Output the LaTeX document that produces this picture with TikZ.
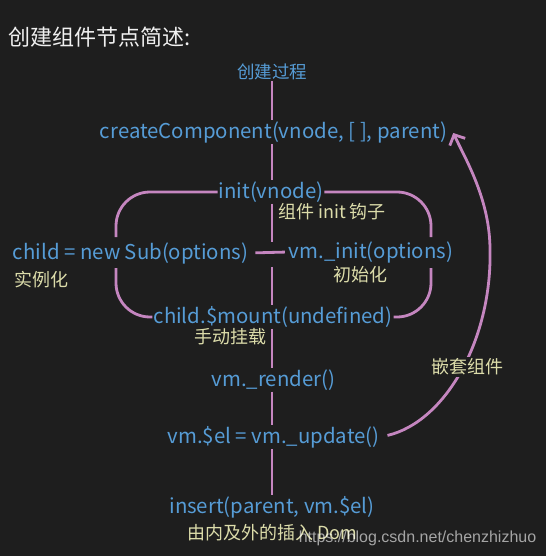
\documentclass[tikz,border=0pt]{standalone}
\usepackage{fontspec}
\setmainfont{Noto Sans CJK SC}
\newfontfamily\wmfont{Liberation Sans}
\usetikzlibrary{arrows.meta}
\definecolor{bg}{HTML}{1E1E1E}
\definecolor{kw}{HTML}{569CD6}
\definecolor{ln}{HTML}{C586C0}
\definecolor{lb}{HTML}{DCDCAA}
\definecolor{tt}{HTML}{F0F0F0}
\tikzset{
  code/.style={text=kw, font=\fontsize{20.4}{24}\selectfont, inner sep=1pt},
  note/.style={text=lb, font=\fontsize{18}{22}\selectfont, inner sep=1pt},
  wire/.style={draw=ln, line width=2.8pt},
  wm/.style={text=white, text opacity=0.6, font=\wmfont\fontsize{16}{19}\selectfont, inner sep=0pt},
}
\begin{document}
\begin{tikzpicture}[x=1pt,y=-1pt]
\useasboundingbox (0,0) rectangle (546,556);
\fill[bg] (0,0) rectangle (546,556);
\coordinate (sp) at (272,0);
% texts
\node[text=tt, font=\fontsize{22}{26}\selectfont, anchor=west, inner sep=0pt] (title) at (8,37) {创建组件节点简述:};
\node[code, font=\fontsize{17.5}{20}\selectfont] (proc) at (272,72) {创建过程};
\node[code] (cc) at (273.5,132) {createComponent(vnode, [ ], parent)};
\node[code] (init) at (271,192) {init(vnode)};
\node[note, anchor=west] (hook) at (277,212) {组件 init 钩子};
\node[code] (child) at (130.5,253) {child = new Sub(options)};
\node[code] (vminit) at (371,252) {vm.\_init(options)};
\node[note, anchor=west] (inst) at (13,280) {实例化};
\node[note] (initz) at (360.5,275) {初始化};
\node[code] (mount) at (273,317) {child.\$mount(undefined)};
\node[note] (manual) at (230.5,337) {手动挂载};
\node[code] (render) at (273.5,380) {vm.\_render()};
\node[code] (update) at (273.5,437) {vm.\$el = vm.\_update()};
\node[code] (insert) at (272,507) {insert(parent, vm.\$el)};
\node[note] (dom) at (272,533) {由内及外的插入 Dom};
% spine
\coordinate (j1) at (272,242);
\coordinate (j2) at (272,267);
\draw[wire] (proc.south -| sp) -- (cc.north -| sp);
\draw[wire] (cc.south -| sp) -- (init.north -| sp);
\draw[wire] (init.south -| sp) -- (j1);
\draw[wire, shorten <=6pt, shorten >=3pt] (child.east) -- (vminit.west);
\draw[wire] (j2) -- (mount.north -| sp);
\draw[wire] (mount.south -| sp) -- (render.north -| sp);
\draw[wire] (render.south -| sp) -- (update.north -| sp);
\draw[wire] (update.south -| sp) -- (insert.north -| sp);
% bracket
\coordinate (bTL) at (116,237);
\coordinate (bTR) at (431,237);
\coordinate (bBL) at (116,268);
\coordinate (bBR) at (431,268);
\draw[wire, rounded corners=34pt] (init.west) -| (bTL);
\draw[wire, rounded corners=34pt] (init.east) -| (bTR);
\draw[wire, rounded corners=34pt] (bBL) |- (mount.west);
\draw[wire, rounded corners=34pt] (bBR) |- (mount.east);
% nesting arrow
\draw[wire, shorten <=7pt, -{Straight Barb[length=8pt,width=17pt]}] (update.east) .. controls (445,422) and (492,340) .. (490,250) .. controls (490,200) and (466,160) .. ([xshift=5pt,yshift=-1pt]cc.east);
\node[note, fill=bg, inner sep=2pt] (nest) at (467.5,367) {嵌套组件};
\node[wm] (wmk) at (417.5,538) {https://blog.csdn.net/chenzhizhuo};
\end{tikzpicture}
\end{document}
